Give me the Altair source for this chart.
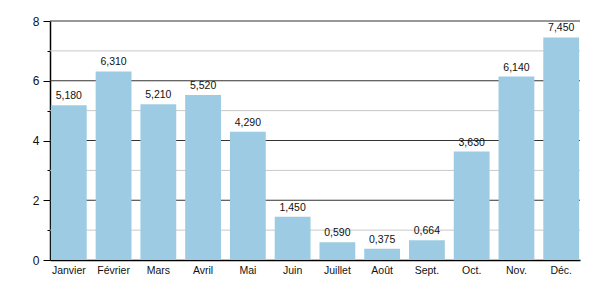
import altair as alt
import pandas as pd

months = ["Janvier", "Février", "Mars", "Avril", "Mai", "Juin", "Juillet",
          "Août", "Sept.", "Oct.", "Nov.", "Déc."]
values = [5.18, 6.31, 5.21, 5.52, 4.29, 1.45, 0.59, 0.375, 0.664, 3.63, 6.14, 7.45]
major_grid = [2, 4, 6, 8]
minor_grid = [1, 3, 5, 7]
tick_values = [0, 1, 2, 3, 4, 5, 6, 7, 8]

df = pd.DataFrame({"mois": months, "valeur": values})
df_major = pd.DataFrame({"g": major_grid})
df_minor = pd.DataFrame({"g": minor_grid})

font = "Liberation Sans"
yscale = alt.Scale(domain=[0, 8], nice=False)
yaxis = alt.Axis(values=tick_values,
                 labelExpr="datum.value % 2 === 0 ? datum.label : ''",
                 grid=False,
                 tickColor="#000",
                 tickSize={"condition": {"test": "datum.value % 2 === 0", "value": 7}, "value": 3},
                 domainColor="#000",
                 labelFont=font, labelFontSize=12, labelColor="#111",
                 labelPadding=4)

x = alt.X("mois:N", sort=months, title=None,
          scale=alt.Scale(paddingInner=0.2, paddingOuter=0.02),
          axis=alt.Axis(labelAngle=0, ticks=False, domainColor="#000",
                        labelFont=font, labelFontSize=10.5, labelColor="#111",
                        labelPadding=5, grid=False))

minor = alt.Chart(df_minor).mark_rule(color="#c8c8c8", strokeWidth=1).encode(
    y=alt.Y("g:Q", scale=yscale, axis=yaxis, title=None))
major = alt.Chart(df_major).mark_rule(color="#333", strokeWidth=1).encode(
    y=alt.Y("g:Q", scale=yscale, axis=yaxis, title=None))

bars = alt.Chart(df).mark_bar(color="#9dcbe3").encode(
    x=x, y=alt.Y("valeur:Q", scale=yscale, axis=yaxis, title=None))

labels = alt.Chart(df).transform_calculate(
    lab="replace(format(datum.valeur, '.3f'), '.', ',')"
).mark_text(baseline="bottom", dy=-4, font=font, fontSize=10.5, color="#111").encode(
    x=alt.X("mois:N", sort=months),
    y=alt.Y("valeur:Q", scale=yscale, axis=yaxis, title=None),
    text="lab:N")

chart = alt.layer(minor, major, bars, labels).properties(
    width=530, height=239,
    autosize=alt.AutoSizeParams(type="none"),
    padding={"left": 50, "top": 21, "right": 20, "bottom": 40},
).configure_view(stroke=None).configure_axis(domainWidth=1.5)

chart.save("out.html", embed_options={"renderer": "svg", "actions": False})
